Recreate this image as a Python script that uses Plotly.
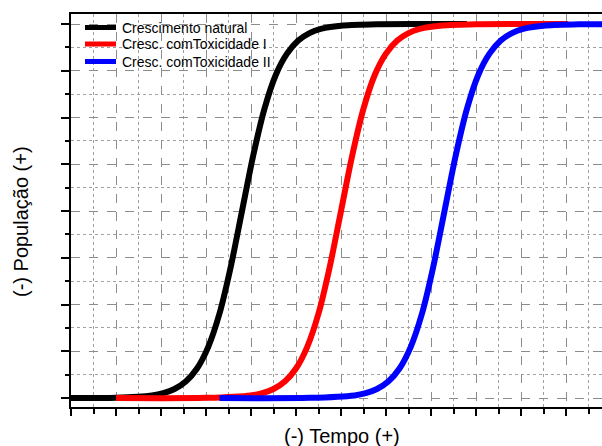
import plotly.graph_objects as go

# Values (x in grid units, y as fraction of carrying capacity)
natural_x = [0, 2, 3.6, 4.1, 4.6, 5.1, 5.6, 6.1, 6.6, 7.1, 7.6, 8.1, 8.6, 9.1, 9.6, 10.1, 10.6, 11.1, 12.1, 13.6, 15.6, 17.6]
natural_y = [0.0001, 0.001, 0.007, 0.013, 0.024, 0.044, 0.079, 0.137, 0.226, 0.351, 0.5, 0.649, 0.774, 0.864, 0.921, 0.956, 0.976, 0.987, 0.996, 0.9994, 0.99995, 1.0]

tox1_x = [2, 6, 8, 8.5, 9, 9.5, 10, 10.5, 11, 11.5, 12, 12.5, 13, 13.5, 14, 14.5, 15, 15.5, 16.5, 18, 20, 22.1]
tox1_y = [0.0, 0.0006, 0.007, 0.013, 0.024, 0.044, 0.079, 0.137, 0.226, 0.351, 0.5, 0.649, 0.774, 0.864, 0.921, 0.956, 0.976, 0.987, 0.996, 0.9994, 0.99995, 1.0]

tox2_x = [6.6, 10.6, 12.6, 13.1, 13.6, 14.1, 14.6, 15.1, 15.6, 16.1, 16.6, 17.1, 17.6, 18.1, 18.6, 19.1, 19.6, 20.1, 21.1, 22.6, 24.6]
tox2_y = [0.0, 0.0006, 0.007, 0.013, 0.024, 0.044, 0.079, 0.137, 0.226, 0.351, 0.5, 0.649, 0.774, 0.864, 0.921, 0.956, 0.976, 0.987, 0.996, 0.9994, 0.99995]

names = ["Crescimento natural", "Cresc. comToxicidade I", "Cresc. comToxicidade II"]
colors = ["#000000", "#ff0000", "#0000ff"]

FONT = "Liberation Sans, Arial, sans-serif"

# plot area in pixels (for placing the hand-built legend and titles)
L, R, T, B = 71, 602, 14, 407
W, H = R - L, B - T


def px_x(p):
    return (p - L) / W


def px_y(p):
    return (B - p) / H


fig = go.Figure()
for xs, ys, nm, c in [(natural_x, natural_y, names[0], colors[0]),
                      (tox1_x, tox1_y, names[1], colors[1]),
                      (tox2_x, tox2_y, names[2], colors[2])]:
    fig.add_trace(go.Scatter(x=xs, y=ys, mode="lines", name=nm, showlegend=False,
                             line=dict(color=c, width=6, shape="spline", smoothing=0.8)))

shapes = []
annotations = []
legend_rows = [27.5, 44.0, 61.5]
for nm, c, ry in zip(names, colors, legend_rows):
    shapes.append(dict(type="line", xref="paper", yref="paper",
                       x0=px_x(85), x1=px_x(116), y0=px_y(ry), y1=px_y(ry),
                       line=dict(color=c, width=5)))
    annotations.append(dict(text=nm, xref="paper", yref="paper",
                            x=px_x(119.5), y=px_y(ry), xanchor="left", yanchor="middle",
                            showarrow=False, font=dict(size=14, family=FONT)))

annotations.append(dict(text="(-) Tempo (+)", xref="paper", yref="paper",
                        x=px_x(342), y=px_y(436), xanchor="center", yanchor="middle",
                        showarrow=False, font=dict(size=20, family=FONT)))
annotations.append(dict(text="(-) População (+)", xref="paper", yref="paper",
                        x=px_x(21), y=px_y(222), xanchor="center", yanchor="middle",
                        textangle=-90, showarrow=False, font=dict(size=20, family=FONT)))

fig.update_layout(
    width=602, height=446,
    margin=dict(l=L, r=602 - R, t=T, b=446 - B),
    paper_bgcolor="white", plot_bgcolor="white",
    font=dict(family=FONT, color="black"),
    showlegend=False,
    xaxis=dict(range=[0, 23.6], showticklabels=False, zeroline=False,
               showline=True, linecolor="black", linewidth=2, mirror=True,
               ticks="outside", ticklen=7, tickwidth=1.5, tickcolor="black",
               tick0=0, dtick=2,
               showgrid=True, gridcolor="#8c8c8c", griddash="dash", gridwidth=1,
               minor=dict(dtick=1, tick0=0, ticks="outside", ticklen=5, tickwidth=1.5,
                          tickcolor="black", showgrid=True, gridcolor="#a0a0a0",
                          griddash="dot", gridwidth=1)),
    yaxis=dict(range=[-0.024, 1.027], showticklabels=False, zeroline=False,
               showline=True, linecolor="black", linewidth=2, mirror=False,
               ticks="outside", ticklen=8, tickwidth=1.5, tickcolor="black",
               tick0=0, dtick=0.125,
               showgrid=True, gridcolor="#8c8c8c", griddash="dash", gridwidth=1,
               minor=dict(dtick=0.0625, tick0=0, ticks="outside", ticklen=4, tickwidth=1.5,
                          tickcolor="black", showgrid=True, gridcolor="#a0a0a0",
                          griddash="dot", gridwidth=1)),
    shapes=shapes,
    annotations=annotations,
)

fig.write_html("out.html")
